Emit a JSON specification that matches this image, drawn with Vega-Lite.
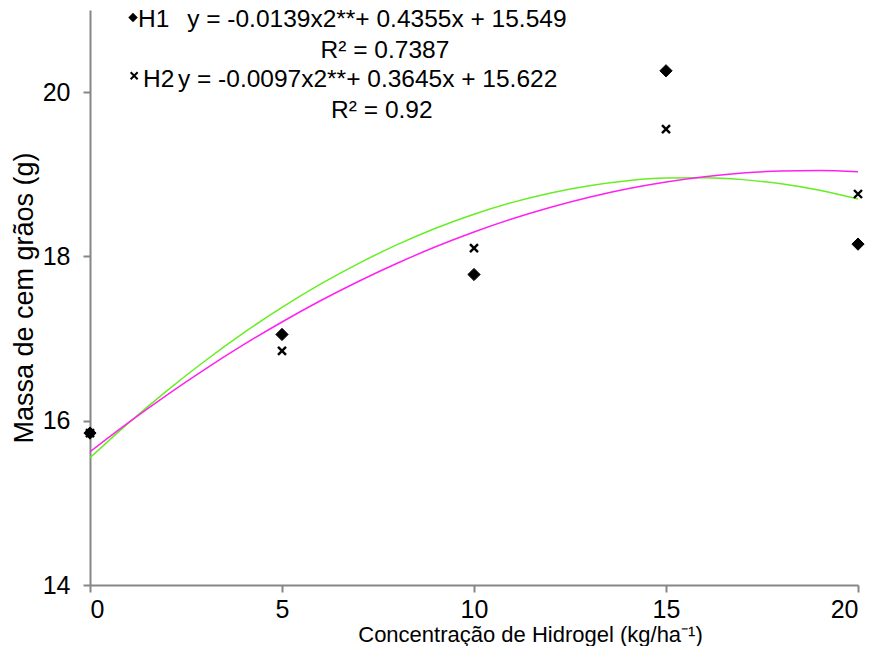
{
  "$schema": "https://vega.github.io/schema/vega-lite/v6.json",
  "width": 768,
  "height": 575,
  "autosize": {"type": "none"},
  "padding": {"left": 90, "top": 10, "right": 16, "bottom": 61},
  "background": "white",
  "config": {
    "view": {"stroke": null},
    "font": "Liberation Sans",
    "axis": {
      "grid": false,
      "domainColor": "#868686",
      "domainWidth": 2,
      "tickColor": "#868686",
      "tickWidth": 2,
      "tickSize": 7,
      "labelFont": "Liberation Sans",
      "labelColor": "#000000",
      "titleFont": "Liberation Sans",
      "titleFontWeight": "normal",
      "titleColor": "#000000"
    }
  },
  "datasets": {
    "points": [
      {"x": 0, "y": 15.85, "series": "H1"},
      {"x": 5, "y": 17.05, "series": "H1"},
      {"x": 10, "y": 17.78, "series": "H1"},
      {"x": 15, "y": 20.26, "series": "H1"},
      {"x": 20, "y": 18.15, "series": "H1"},
      {"x": 0, "y": 15.85, "series": "H2"},
      {"x": 5, "y": 16.85, "series": "H2"},
      {"x": 10, "y": 18.10, "series": "H2"},
      {"x": 15, "y": 19.55, "series": "H2"},
      {"x": 20, "y": 18.76, "series": "H2"}
    ],
    "curves": [
      {"x": 0, "y": 15.549, "series": "H1"},
      {"x": 1, "y": 15.971, "series": "H1"},
      {"x": 2, "y": 16.364, "series": "H1"},
      {"x": 3, "y": 16.730, "series": "H1"},
      {"x": 4, "y": 17.069, "series": "H1"},
      {"x": 5, "y": 17.379, "series": "H1"},
      {"x": 6, "y": 17.662, "series": "H1"},
      {"x": 7, "y": 17.916, "series": "H1"},
      {"x": 8, "y": 18.143, "series": "H1"},
      {"x": 9, "y": 18.343, "series": "H1"},
      {"x": 10, "y": 18.514, "series": "H1"},
      {"x": 11, "y": 18.658, "series": "H1"},
      {"x": 12, "y": 18.773, "series": "H1"},
      {"x": 13, "y": 18.861, "series": "H1"},
      {"x": 14, "y": 18.922, "series": "H1"},
      {"x": 15, "y": 18.954, "series": "H1"},
      {"x": 16, "y": 18.959, "series": "H1"},
      {"x": 17, "y": 18.935, "series": "H1"},
      {"x": 18, "y": 18.884, "series": "H1"},
      {"x": 19, "y": 18.806, "series": "H1"},
      {"x": 20, "y": 18.699, "series": "H1"},
      {"x": 0, "y": 15.622, "series": "H2"},
      {"x": 1, "y": 15.977, "series": "H2"},
      {"x": 2, "y": 16.312, "series": "H2"},
      {"x": 3, "y": 16.628, "series": "H2"},
      {"x": 4, "y": 16.925, "series": "H2"},
      {"x": 5, "y": 17.202, "series": "H2"},
      {"x": 6, "y": 17.460, "series": "H2"},
      {"x": 7, "y": 17.698, "series": "H2"},
      {"x": 8, "y": 17.917, "series": "H2"},
      {"x": 9, "y": 18.117, "series": "H2"},
      {"x": 10, "y": 18.297, "series": "H2"},
      {"x": 11, "y": 18.458, "series": "H2"},
      {"x": 12, "y": 18.599, "series": "H2"},
      {"x": 13, "y": 18.721, "series": "H2"},
      {"x": 14, "y": 18.824, "series": "H2"},
      {"x": 15, "y": 18.907, "series": "H2"},
      {"x": 16, "y": 18.971, "series": "H2"},
      {"x": 17, "y": 19.015, "series": "H2"},
      {"x": 18, "y": 19.040, "series": "H2"},
      {"x": 19, "y": 19.046, "series": "H2"},
      {"x": 20, "y": 19.032, "series": "H2"}
    ],
    "legendSymbols": [
      {"x": 1.12, "y": 20.91, "series": "H1"},
      {"x": 1.15, "y": 20.20, "series": "H2"}
    ],
    "legendLeft": [
      {"x": 1.25, "y": 20.79, "text": "H1"},
      {"x": 2.53, "y": 20.79, "text": "y = -0.0139x2**+ 0.4355x + 15.549"},
      {"x": 1.38, "y": 20.06, "text": "H2"},
      {"x": 2.29, "y": 20.06, "text": "y = -0.0097x2**+ 0.3645x + 15.622"}
    ],
    "legendCenter": [
      {"x": 7.68, "y": 20.42, "text": "R² = 0.7387"},
      {"x": 7.60, "y": 19.69, "text": "R² = 0.92"}
    ]
  },
  "encoding": {
    "x": {
      "field": "x",
      "type": "quantitative",
      "scale": {"domain": [0, 20], "nice": false, "zero": false},
      "axis": {
        "values": [0, 5, 10, 15, 20],
        "labelFontSize": 25,
        "labelPadding": 5,
        "title": "Concentração de Hidrogel (kg/ha⁻¹)",
        "titleFontSize": 22,
        "titleAnchor": "middle",
        "titleX": 440,
        "titleY": 56,
        "titleBaseline": "alphabetic"
      }
    },
    "y": {
      "field": "y",
      "type": "quantitative",
      "scale": {"domain": [14, 21], "nice": false, "zero": false},
      "axis": {
        "values": [14, 16, 18, 20],
        "labelFontSize": 25,
        "labelPadding": 13,
        "title": "Massa de cem grãos (g)",
        "titleFontSize": 27,
        "titleX": -58,
        "titleBaseline": "alphabetic"
      }
    }
  },
  "layer": [
    {
      "data": {"name": "curves"},
      "mark": {"type": "line", "interpolate": "monotone", "strokeWidth": 1.5},
      "encoding": {
        "color": {
          "field": "series",
          "type": "nominal",
          "scale": {"domain": ["H1", "H2"], "range": ["#66EE22", "#FF22EE"]},
          "legend": null
        }
      }
    },
    {
      "data": {"name": "points"},
      "transform": [{"filter": "datum.series === 'H2'"}],
      "mark": {"type": "point", "shape": "M-1,-1L1,1M-1,1L1,-1", "filled": false, "stroke": "#000000", "strokeWidth": 2.4, "size": 64, "opacity": 1}
    },
    {
      "data": {"name": "points"},
      "transform": [{"filter": "datum.series === 'H1'"}],
      "mark": {"type": "point", "shape": "diamond", "filled": true, "fill": "#000000", "stroke": "#000000", "strokeWidth": 1, "size": 150, "opacity": 1}
    },
    {
      "data": {"name": "legendSymbols"},
      "transform": [{"filter": "datum.series === 'H1'"}],
      "mark": {"type": "point", "shape": "diamond", "filled": true, "fill": "#000000", "size": 90, "opacity": 1}
    },
    {
      "data": {"name": "legendSymbols"},
      "transform": [{"filter": "datum.series === 'H2'"}],
      "mark": {"type": "point", "shape": "M-1,-1L1,1M-1,1L1,-1", "filled": false, "stroke": "#000000", "strokeWidth": 2, "size": 49, "opacity": 1}
    },
    {
      "data": {"name": "legendLeft"},
      "mark": {"type": "text", "align": "left", "baseline": "alphabetic", "fontSize": 24.5, "font": "Liberation Sans", "color": "#000000"},
      "encoding": {"text": {"field": "text", "type": "nominal"}}
    },
    {
      "data": {"name": "legendCenter"},
      "mark": {"type": "text", "align": "center", "baseline": "alphabetic", "fontSize": 24.5, "font": "Liberation Sans", "color": "#000000"},
      "encoding": {"text": {"field": "text", "type": "nominal"}}
    }
  ]
}
